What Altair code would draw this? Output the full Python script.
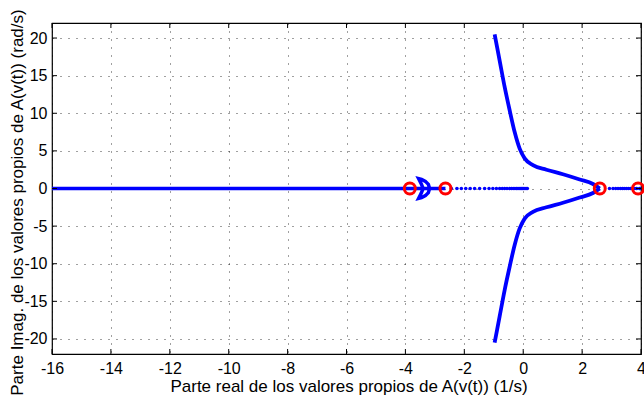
import altair as alt
import pandas as pd

# ---- data ----
x_ticks = [-16, -14, -12, -10, -8, -6, -4, -2, 0, 2, 4]
y_ticks = [-20, -15, -10, -5, 0, 5, 10, 15, 20]

main_re = [-16.0, -2.64]              # dense run of real eigenvalues
crescent_re = [-3.40, -3.46, -3.55, -3.45, -3.32, -3.22, -3.18]
crescent_im = [0.0, 0.60, 1.30, 1.20, 0.95, 0.55, 0.0]
branch_re = [-0.97, -0.80, -0.63, -0.46, -0.29, -0.12, 0.05, 0.33, 0.79, 1.35, 1.92, 2.37, 2.60]
branch_im = [20.5, 17.0, 13.5, 10.4, 7.5, 5.3, 4.0, 3.1, 2.5, 1.9, 1.2, 0.6, 0.0]
dots_re = [-2.44, -2.25, -2.10, -1.95, -1.80, -1.65, -1.48, -1.31, -1.16, -1.03, -0.91,
           -0.80, -0.71, -0.63, -0.55, -0.46, -0.40, -0.34, -0.28, -0.23, -0.18, -0.14,
           -0.10, -0.06, -0.02, 0.02, 0.06, 0.10, 0.14]
right_dots_re = [2.93, 3.05, 3.14, 3.22, 3.30, 3.37, 3.43, 3.50, 3.57, 3.64, 3.71, 3.78,
                 3.85, 3.95, 4.0]
marker_re = [-3.85, -2.64, 2.60, 3.90]

x_title = "Parte real de los valores propios de A(v(t)) (1/s)"
y_title = "Parte Imag. de los valores propios de A(v(t)) (rad/s)"

# ---- tables ----
rows = []
for i, r in enumerate(main_re):
    rows.append({"re": r, "im": 0.0, "seg": "main", "o": i})
for i, (r, m) in enumerate(zip(crescent_re, crescent_im)):
    rows.append({"re": r, "im": m, "seg": "cu", "o": i})
    rows.append({"re": r, "im": -m, "seg": "cd", "o": i})
lines_df = pd.DataFrame(rows)

brows = []
for i, (r, m) in enumerate(zip(branch_re, branch_im)):
    brows.append({"re": r, "im": m, "seg": "bu", "o": i})
    brows.append({"re": r, "im": -m, "seg": "bd", "o": i})
branch_df = pd.DataFrame(brows)

dots_df = pd.DataFrame({"re": dots_re + right_dots_re, "im": [0.0] * (len(dots_re) + len(right_dots_re))})
mark_df = pd.DataFrame({"re": marker_re, "im": [0.0] * len(marker_re)})
xt_df = pd.DataFrame({"v": x_ticks})
yt_df = pd.DataFrame({"v": y_ticks})

W, H = 589, 331
FONT = "Liberation Sans"
BLUE = "#0000ff"
RED = "#ff0000"

xs = alt.Scale(domain=[-16, 4], nice=False, zero=False)
ys = alt.Scale(domain=[-22, 22], nice=False, zero=False)

x_axis = alt.Axis(values=x_ticks, title=x_title, grid=True, gridDash=[1, 7],
                  gridColor="black", gridOpacity=0.75, ticks=False, tickSize=0,
                  domain=False, labelExpr="'' + datum.value", labelFont=FONT,
                  labelFontSize=16, labelColor="black", labelPadding=6,
                  labelFlush=False, labelOverlap=False,
                  titleFont=FONT, titleFontSize=17, titleFontWeight="normal",
                  titleColor="black", titleX=W / 2 + 2, titleY=32,
                  titleBaseline="middle", titleAlign="center")
y_axis = alt.Axis(values=y_ticks, title=y_title, grid=True, gridDash=[1, 7],
                  gridColor="black", gridOpacity=0.75, ticks=False, tickSize=0,
                  domain=False, labelExpr="'' + datum.value", labelFont=FONT,
                  labelFontSize=16, labelColor="black", labelPadding=5,
                  labelFlush=False, labelOverlap=False,
                  titleFont=FONT, titleFontSize=17, titleFontWeight="normal",
                  titleColor="black", titleX=-35, titleY=179, titleAngle=-90,
                  titleBaseline="middle", titleAlign="center")

base_lines = alt.Chart(lines_df).mark_line(color=BLUE, strokeWidth=3.5, clip=True).encode(
    x=alt.X("re:Q", scale=xs, axis=x_axis),
    y=alt.Y("im:Q", scale=ys, axis=y_axis),
    detail="seg:N",
    order="o:Q",
)
branches = alt.Chart(branch_df).mark_line(color=BLUE, strokeWidth=3.8, clip=True,
                                           interpolate="monotone").encode(
    x=alt.X("re:Q", scale=xs), y=alt.Y("im:Q", scale=ys), detail="seg:N", order="o:Q")
dots = alt.Chart(dots_df).mark_circle(color=BLUE, size=13, opacity=1, clip=True).encode(
    x=alt.X("re:Q", scale=xs), y=alt.Y("im:Q", scale=ys))
markers = alt.Chart(mark_df).mark_point(shape="circle", color=RED, size=120,
                                        strokeWidth=3, filled=False, opacity=1).encode(
    x=alt.X("re:Q", scale=xs), y=alt.Y("im:Q", scale=ys))

tick_len = 5
xt_bot = alt.Chart(xt_df).mark_rule(color="black", strokeWidth=1).encode(
    x=alt.X("v:Q", scale=xs), y=alt.value(H), y2=alt.value(H - tick_len))
xt_top = alt.Chart(xt_df).mark_rule(color="black", strokeWidth=1).encode(
    x=alt.X("v:Q", scale=xs), y=alt.value(0), y2=alt.value(tick_len))
yt_left = alt.Chart(yt_df).mark_rule(color="black", strokeWidth=1).encode(
    y=alt.Y("v:Q", scale=ys), x=alt.value(0), x2=alt.value(tick_len))
yt_right = alt.Chart(yt_df).mark_rule(color="black", strokeWidth=1).encode(
    y=alt.Y("v:Q", scale=ys), x=alt.value(W), x2=alt.value(W - tick_len))

chart = alt.layer(
    base_lines, branches, dots, markers, xt_bot, xt_top, yt_left, yt_right
).properties(
    width=W, height=H,
    autosize=alt.AutoSizeParams(type="none"),
    padding={"left": 52, "top": 23, "right": 3, "bottom": 45},
    background="white",
).configure_view(stroke="black", strokeWidth=1.2)

chart.save("out.html", embed_options={"renderer": "svg", "actions": False})
